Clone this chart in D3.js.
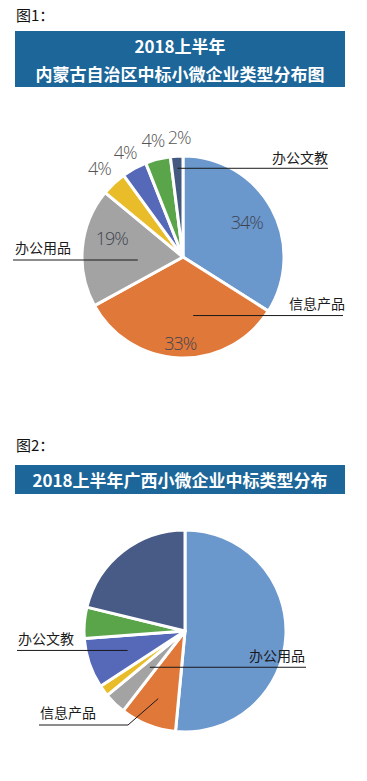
<!DOCTYPE html>
<html>
<head>
<meta charset="utf-8">
<script src="https://cdn.jsdelivr.net/npm/d3@7"></script>
<style>
  body { margin: 0; background: #fff; }
  svg { display: block; }
</style>
</head>
<body>
<div id="chart"></div>
<script>
// figure 1: Inner Mongolia
const cats1 = ["信息技术", "信息产品", "办公用品", "其他1", "其他2", "其他3", "办公文教"];
const vals1 = [34, 33, 19, 4, 4, 4, 2];
const colors1 = ["#6a97cc", "#e0783a", "#a3a3a3", "#e9bd2a", "#5668b8", "#5aa54a", "#44597f"];

// figure 2: Guangxi
const cats2 = ["其他A", "信息产品", "办公用品", "其他B", "办公文教", "其他C", "其他D"];
const vals2 = [51.5, 9, 3.5, 1.8, 8, 5, 21.2];
const colors2 = ["#6a97cc", "#e0783a", "#a3a3a3", "#e9bd2a", "#5668b8", "#5aa54a", "#485a86"];

const W = 367, H = 781;
const svg = d3.select("#chart").append("svg")
    .attr("width", W)
    .attr("height", H);

const cjk = "'Noto Sans CJK SC', 'Noto Sans', sans-serif";

// title helpers
function caption(y, text) {
    svg.append("text")
        .attr("x", 16).attr("y", y)
        .attr("font-family", cjk)
        .attr("font-size", 15)
        .attr("fill", "#111")
        .text(text);
}

function banner(y, h, lines) {
    svg.append("rect")
        .attr("x", 15).attr("y", y)
        .attr("width", 330).attr("height", h)
        .attr("fill", "#1c6699");
    lines.forEach((l, i) => {
        svg.append("text")
            .attr("x", 180)
            .attr("y", y + h / (lines.length * 2) * (2 * i + 1))
            .attr("text-anchor", "middle")
            .attr("dominant-baseline", "central")
            .attr("font-family", cjk)
            .attr("font-weight", "bold")
            .attr("font-size", 17)
            .attr("fill", "#fff")
            .text(l);
    });
}

caption(21, "图1：");
banner(31, 56, ["2018上半年", "内蒙古自治区中标小微企业类型分布图"]);
caption(451, "图2：");
banner(465, 29, ["2018上半年广西小微企业中标类型分布"]);

const pie = d3.pie().sort(null).value(d => d);

function drawPie(cx, cy, R, vals, colors) {
    let g = svg.append("g").attr("transform", `translate(${cx},${cy})`);
    let arcs = pie(vals);
    let arc = d3.arc().innerRadius(0).outerRadius(R);
    g.selectAll("path")
        .data(arcs)
        .enter().append("path")
        .attr("d", arc)
        .attr("fill", (d, i) => colors[i])
        .attr("stroke", "#fff")
        .attr("stroke-width", 3)
        .attr("stroke-linejoin", "round");
    return {g, arcs, R};
}

// point on the slice's middle angle (plus optional turn, radians)
function at(p, i, rf, turn = 0) {
    let d = p.arcs[i];
    let a = (d.startAngle + d.endAngle) / 2 + turn;
    return [Math.sin(a) * p.R * rf, -Math.cos(a) * p.R * rf];
}

// leader line + label
function leader(p, pts, label, tx, ty, anchor) {
    p.g.append("path")
        .attr("d", d3.line()(pts))
        .attr("fill", "none")
        .attr("stroke", "#1a1a1a")
        .attr("stroke-width", 1);
    p.g.append("text")
        .attr("x", tx).attr("y", ty)
        .attr("text-anchor", anchor)
        .attr("font-family", cjk)
        .attr("font-size", 14)
        .attr("fill", "#1a1a1a")
        .text(label);
}

// ---- pie 1
const p1 = drawPie(183, 257, 101, vals1, colors1);
const lblR1 = [0.72, 0.85, 0.73, 1.21, 1.19, 1.2, 1.19];
const lblTurn1 = [0, 0, 0.17, 0, 0, 0, 0.03];
p1.arcs.forEach((d, i) => {
    let c = at(p1, i, lblR1[i], lblTurn1[i]);
    p1.g.append("text")
        .attr("x", c[0]).attr("y", c[1])
        .attr("text-anchor", "middle")
        .attr("dominant-baseline", "central")
        .attr("font-family", "'Open Sans', 'DejaVu Sans', sans-serif")
        .attr("font-weight", 300)
        .attr("font-size", 18)
        .attr("letter-spacing", -1)
        .attr("fill", i < 3 ? "#3f4550" : "#555")
        .text(vals1[i] + "%");
});

let s = at(p1, 6, 0.88);
leader(p1, [s, [328 - 183, s[1]]], cats1[6], 328 - 183, s[1] - 5, "end");
s = at(p1, 1, 0.58);
s = [s[0] + 12, s[1]];
leader(p1, [s, [343 - 183, s[1]]], cats1[1], 345 - 183, s[1] - 7, "end");
s = at(p1, 2, 0.45);
s = [s[0], 260 - 257];
leader(p1, [s, [13 - 183, s[1]]], cats1[2], 15 - 183, s[1] - 7, "start");

// ---- pie 2
const p2 = drawPie(185, 631, 101, vals2, colors2);

s = at(p2, 4, 0.6);
leader(p2, [s, [17 - 185, s[1]]], cats2[4], 18 - 185, s[1] - 6, "start");
s = at(p2, 2, 0.5);
leader(p2, [s, [306 - 185, s[1]]], cats2[2], 305 - 185, s[1] - 6, "end");
s = at(p2, 1, 0.72);
leader(p2, [s, [128 - 185, 725 - 631], [39 - 185, 725 - 631]], cats2[1], 40 - 185, 725 - 631 - 7, "start");
</script>
</body>
</html>
